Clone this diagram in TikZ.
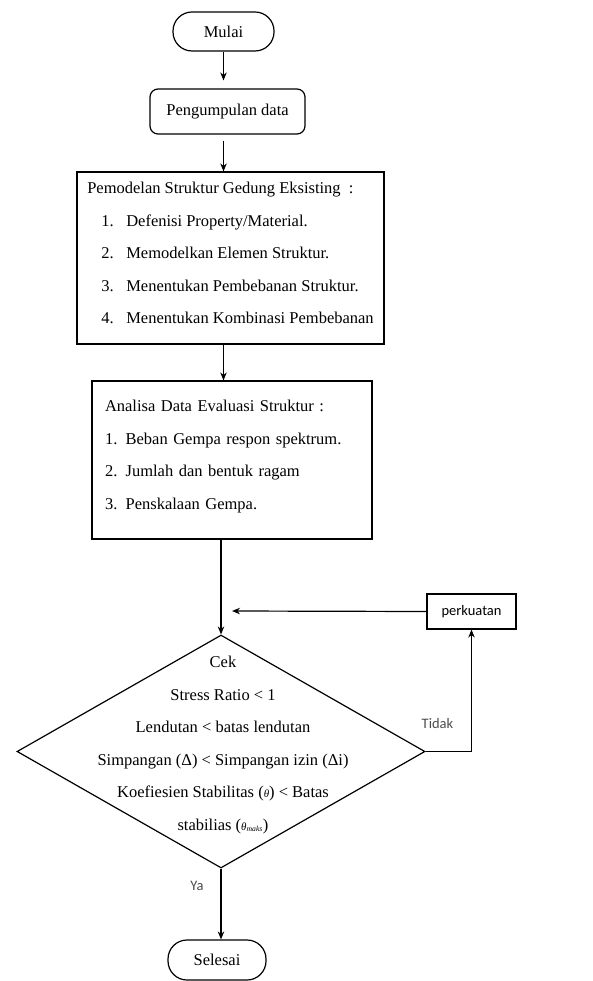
\documentclass[tikz,border=0pt]{standalone}
\usepackage{fontspec}
\setmainfont{Liberation Serif}
\newfontfamily\lblfont{Carlito}
\usetikzlibrary{shapes.geometric,arrows.meta}

\begin{document}
\begin{tikzpicture}[x=1pt,y=-1pt,
        every node/.style={font=\fontsize{16.5}{32.5}\selectfont},
        terminal/.style={draw=black,line width=1.2pt,rounded corners=19pt,minimum height=39pt},
        kotak/.style={draw=black,line width=1.2pt,align=left,inner ysep=0pt},
        catatan/.style={font=\lblfont\fontsize{14.5}{17}\selectfont},
        panah/.style={draw=black,line width=1.2pt,-{Stealth[length=8pt,width=6.5pt]}}]
        \useasboundingbox (0,0) rectangle (593,981);

        \node[terminal,minimum width=101pt] (mulai) at (223.5,31.5) {Mulai};
        \node[draw=black,line width=1.2pt,rounded corners=8pt,minimum width=155pt,minimum height=45pt] (kumpul) at (227.5,111.5) {Pengumpulan data};
        \node[kotak,minimum width=307pt,minimum height=172pt] (model) at (230.5,258) {Pemodelan Struktur Gedung Eksisting~ :\\
            \hspace*{14pt}\makebox[25pt][l]{1.}Defenisi Property/Material.\\
            \hspace*{14pt}\makebox[25pt][l]{2.}Memodelkan Elemen Struktur.\\
            \hspace*{14pt}\makebox[25pt][l]{3.}Menentukan Pembebanan Struktur.\\
            \hspace*{14pt}\makebox[25pt][l]{4.}Menentukan Kombinasi Pembebanan\\[-23pt]\mbox{}};
        \node[kotak,minimum width=280pt,minimum height=158pt,text width=254pt,inner xsep=13pt] (analisa) at (232,460) {Analisa Data Evaluasi Struktur :\\
            1. Beban Gempa respon spektrum.\\
            2. Jumlah dan bentuk ragam\\
            3. Penskalaan Gempa.\\[-22pt]\mbox{}};
        \node[draw=black,line width=1.2pt,diamond,minimum width=408pt,minimum height=233pt,inner sep=0pt] (cek) at (221,751.5) {};
        \node[align=center] (cektxt) at (223,745) {Cek\\
            Stress Ratio < 1\\
            Lendutan < batas lendutan\\
            Simpangan (Δ) < Simpangan izin (Δi)\\
            Koefiesien Stabilitas ({\fontsize{11}{11}\selectfont\itshape θ}) < Batas\\
            stabilias ({\fontsize{11}{11}\selectfont\itshape θ\textsubscript{maks}})};
        \node[draw=black,line width=1.2pt,minimum width=89pt,minimum height=35pt,catatan] (kuat) at (471.5,611.5) {perkuatan};
        \node[terminal,minimum width=98pt,minimum height=40pt] (selesai) at (217,960) {Selesai};

        \node[catatan,text=black!70] (tidak) at (437.5,724) {Tidak};
        \node[catatan,text=black!70] (ya) at (197,886) {Ya};
        \coordinate (masuk) at (232,611);

        \draw[panah,shorten >=8pt] (mulai.south) -- (mulai.south |- kumpul.north);
        \draw[panah,shorten <=6pt] (mulai.south |- kumpul.south) -- (mulai.south |- model.north);
        \draw[panah] (mulai.south |- model.south) -- (mulai.south |- analisa.north);
        \draw[panah] (analisa.south -| cek.north) -- (cek.north);
        \draw[panah] (kuat.west) -- (masuk);
        \draw[panah] (cek.east) -| (kuat.south);
        \draw[panah] (cek.south) -- (cek.south |- selesai.north);
    \end{tikzpicture}
\end{document}
